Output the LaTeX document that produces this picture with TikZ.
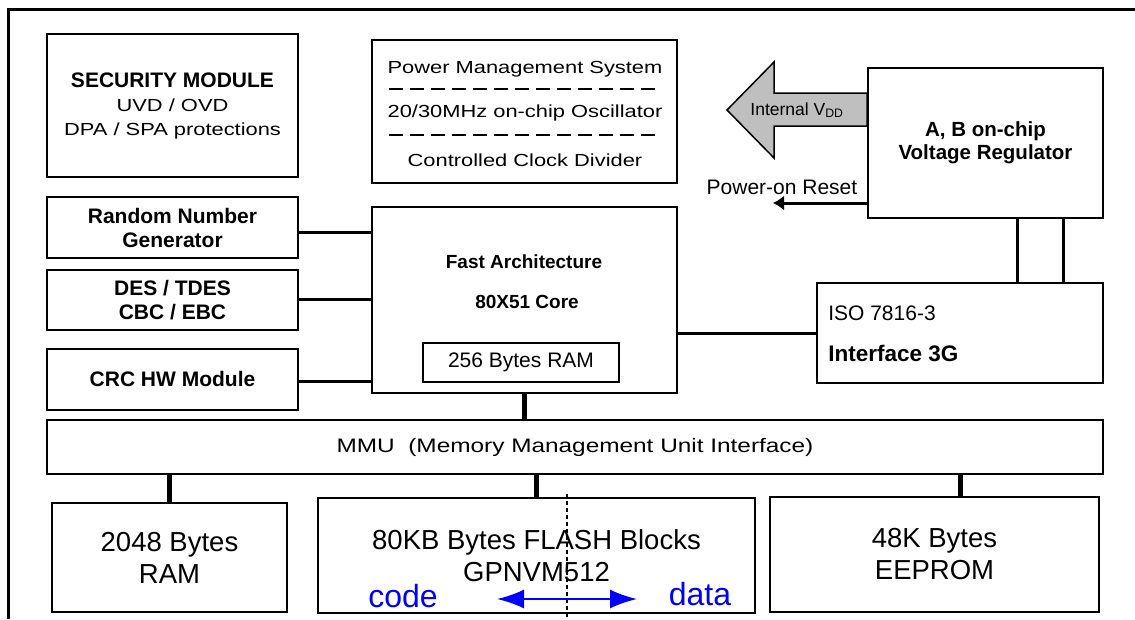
\documentclass[tikz,border=0pt]{standalone}
\usepackage{fontspec}
\setmainfont{Liberation Sans}
\newfontfamily\largo{Liberation Sans}[FakeStretch=1.25]
\usetikzlibrary{positioning}
\usetikzlibrary{calc}
\usetikzlibrary{arrows.meta}
\newcommand{\corpo}[2]{\fontsize{#1}{#2}\selectfont}

\begin{document}
\begin{tikzpicture}[x=1pt,y=-1pt,align=center,inner sep=0pt,
blocco/.style={draw,line width=1.8pt},
grassetto/.style={font=\bfseries\corpo{21}{24}},
testo/.style={font=\corpo{21}{24}},
testoL/.style={font=\largo\corpo{17.5}{24}},
grande/.style={font=\corpo{27.5}{32}},
blu/.style={text=blue,font=\corpo{32}{36}},
cornice/.style={line width=3pt},
linea/.style={line width=3pt},
lineaG/.style={line width=5pt},
tratto/.style={line width=2.5pt,dash pattern=on 14pt off 7pt},
puntini/.style={line width=2.5pt,dash pattern=on 4pt off 3pt},
freccia/.style={line width=3pt,-{Latex[length=11pt,width=15pt]}},
frecciaB/.style={blue,line width=2pt,{Latex[length=27pt,width=19pt]}-{Latex[length=27pt,width=19pt]}},
grigio/.style={draw,line width=1.5pt,fill=black!25}
]
\useasboundingbox (0,0) rectangle (1135,619);
\draw[cornice] (1135,9) -- (8,9) -- (8,619);
%--
\node[blocco,testoL,minimum width=251pt,minimum height=143pt](sec) at (172.5,105.5){{\rmfamily\bfseries\corpo{21}{24}SECURITY MODULE}\\UVD / OVD\\DPA / SPA protections};
\node[blocco,grassetto,minimum width=251pt,minimum height=61pt](rng) at (172.5,227.5){Random Number\\Generator};
\node[blocco,grassetto,minimum width=251pt,minimum height=60pt,below=10pt of rng](des){DES / TDES\\CBC / EBC};
\node[blocco,grassetto,minimum width=251pt,minimum height=61pt,below=17pt of des](crc){CRC HW Module};
%--
\node[blocco,minimum width=305pt,minimum height=143pt](pms) at (524.5,111.5){};
\node[testoL](pms1) at (525,69){Power Management System};
\node[testoL](pms2) at (525,113){20/30MHz on-chip Oscillator};
\node[testoL](pms3) at (525,160){Controlled Clock Divider};
\draw[tratto] ($(pms.north west)+(18,50)$) -- ($(pms.north east)+(-17,50)$);
\draw[tratto] ($(pms.north west)+(18,96)$) -- ($(pms.north east)+(-17,96)$);
%--
\node[blocco,minimum width=305pt,minimum height=186pt](core) at (524.5,300){};
\node[font=\bfseries\corpo{19}{22}](arch) at (524,262){Fast Architecture};
\node[font=\bfseries\corpo{19}{22}](c51) at (527,302){80X51 Core};
\node[blocco,testo,minimum width=196pt,minimum height=39pt](ram256) at (521,362.5){256 Bytes RAM};
%--
\node[blocco,font=\bfseries\corpo{20.5}{23},minimum width=235pt,minimum height=150pt](reg) at (985.5,143){A, B on-chip\\Voltage Regulator};
\draw[grigio] (reg.west |- 0,93) -- (774,93) -- (774,62) -- (727,110) -- (774,158) -- (774,126) -- (reg.west |- 0,126) -- cycle;
\node[font=\corpo{17.5}{20}](vdd) at (797,110){Internal V\textsubscript{DD}};
\coordinate (rst) at (773,203);
\draw[freccia] (reg.west |- rst) -- (rst);
\node[testo](por) at (782,187){Power-on Reset};
%--
\node[blocco,minimum width=286pt,minimum height=100pt](iface) at (960,333){};
\node[testo,anchor=west](iso) at ($(iface.north west)+(12,31)$){ISO 7816-3};
\node[font=\bfseries\corpo{22.5}{26},anchor=west](if3g) at ($(iface.north west)+(12,71)$){Interface 3G};
%--
\node[blocco,minimum width=1056pt,minimum height=54pt,font=\largo\corpo{19.5}{24}](mmu) at (575,447){MMU\ \ (Memory Management Unit Interface)};
%----
\node[blocco,grande,minimum width=235pt,minimum height=109pt](ram) at (169.5,557.5){2048 Bytes\\RAM};
\node[blocco,grande,minimum width=437pt,minimum height=115pt](flash) at (536.5,555.5){80KB Bytes FLASH Blocks\\GPNVM512};
\node[blocco,grande,minimum width=329pt,minimum height=115pt](eeprom) at (934.5,554.5){48K Bytes\\EEPROM};
\node[blu](code) at (403,596){code};
\node[blu](data) at (700,594){data};
%-- connessioni
\coordinate (rn) at ([yshift=-4.5pt]rng.east);
\draw[linea] (rn) -- (rn -| core.west);
\draw[linea] (des.east) -- (des.east -| core.west);
\coordinate (cr) at ([yshift=-2.5pt]crc.east);
\draw[linea] (cr) -- (cr -| core.west);
\draw[linea] (iface.west -| core.east) -- (iface.west);
\coordinate (r1) at ([xshift=31.5pt]reg.south);
\coordinate (r2) at ([xshift=77.5pt]reg.south);
\draw[linea] (r1) -- (r1 |- iface.north);
\draw[linea] (r2) -- (r2 |- iface.north);
\draw[lineaG] (core.south) -- (core.south |- mmu.north);
\draw[lineaG] (ram.north |- mmu.south) -- (ram.north);
\draw[lineaG] (flash.north |- mmu.south) -- (flash.north);
\coordinate (ee) at ([xshift=25.5pt]eeprom.north);
\draw[lineaG] (ee |- mmu.south) -- (ee);
%--
\coordinate (div) at ([xshift=30.5pt]flash.north);
\coordinate (divB) at (div |- 0,619);
\draw[puntini] ([yshift=3pt]div) -- (divB);
\coordinate (cs) at (497,599);
\coordinate (cd) at (637,599);
\draw[frecciaB] (cs) -- (cd);
\end{tikzpicture}
\end{document}
